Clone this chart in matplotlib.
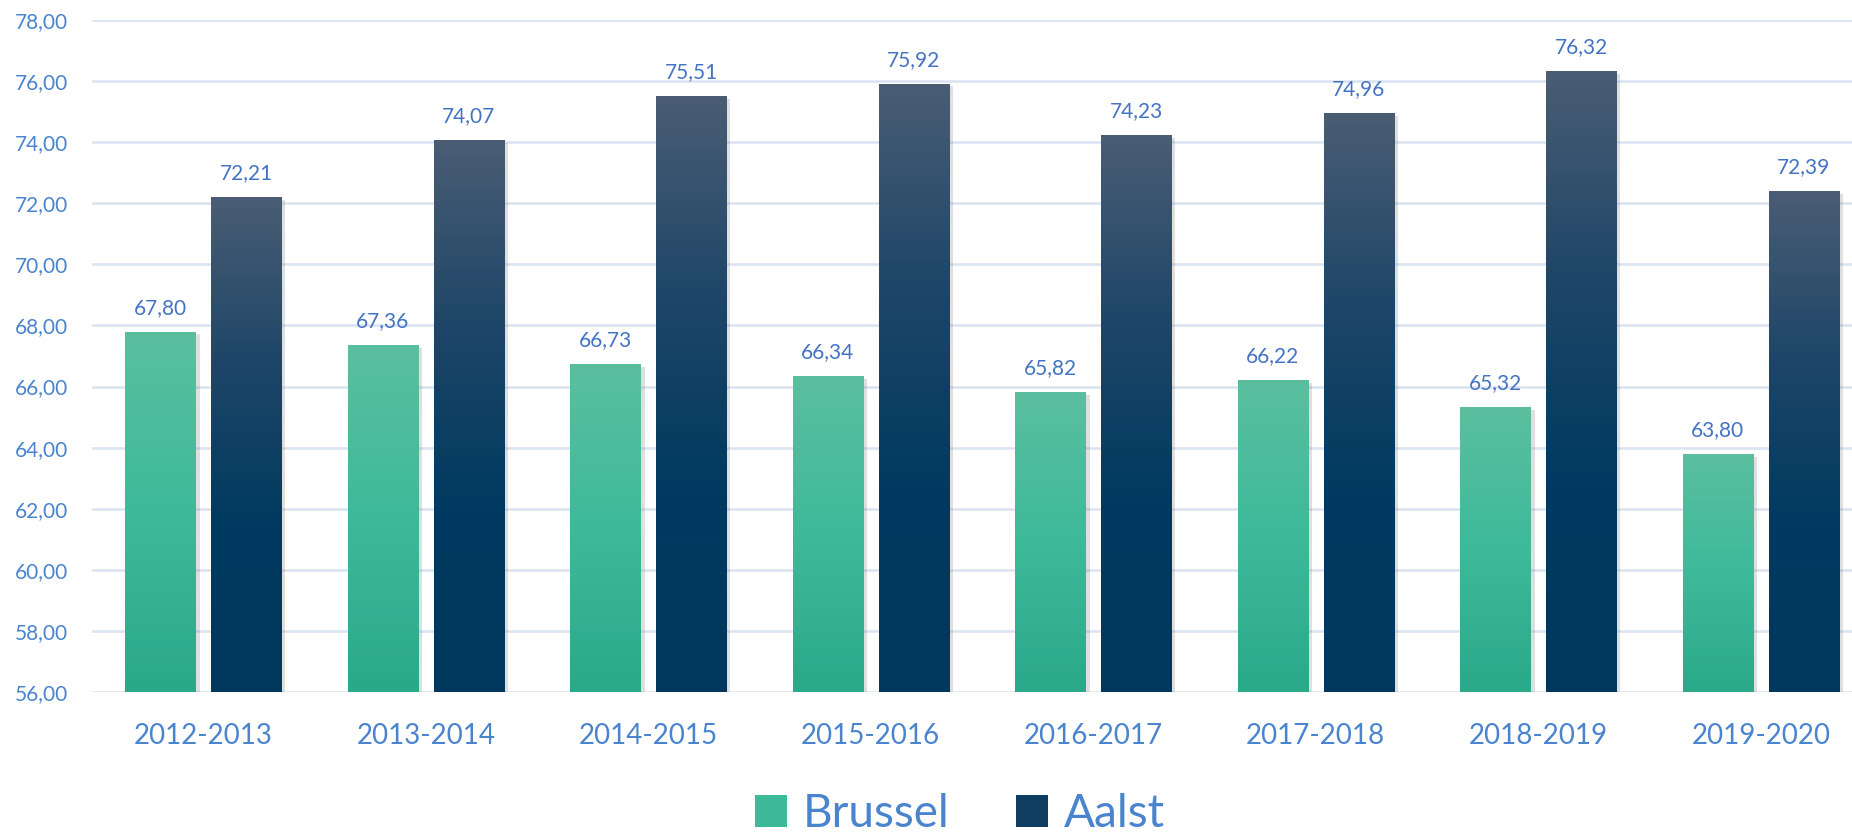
import numpy as np
import matplotlib
matplotlib.use("Agg")
import matplotlib.pyplot as plt
import matplotlib.patheffects as pe
from matplotlib.colors import LinearSegmentedColormap
from matplotlib.patches import Patch

plt.rcParams["font.family"] = ["Lato", "DejaVu Sans"]

years = ["2012-2013", "2013-2014", "2014-2015", "2015-2016",
         "2016-2017", "2017-2018", "2018-2019", "2019-2020"]
brussel = [67.80, 67.36, 66.73, 66.34, 65.82, 66.22, 65.32, 63.80]
aalst = [72.21, 74.07, 75.51, 75.92, 74.23, 74.96, 76.32, 72.39]

TEXT_BLUE = "#4a84cf"
LABEL_BLUE = "#4472c4"
GRID = "#d9e3f1"

# top -> bottom gradients
cm_brussel = LinearSegmentedColormap.from_list("br", ["#5bbf9f", "#3dba9a", "#2aa98a"])
cm_aalst = LinearSegmentedColormap.from_list("aa", ["#4a5d74", "#1e4668", "#003a60", "#00375c"])

fig = plt.figure(figsize=(18.52, 8.32), dpi=100)
ax = fig.add_axes([92 / 1852, 1 - 692 / 832, 1 - 92 / 1852, (692 - 20) / 832])

YMIN, YMAX = 56, 78
x = np.arange(len(years))
w = 0.315
off = 0.193


def grad_bars(xs, vals, cmap):
    bars = ax.bar(xs, np.array(vals) - YMIN, bottom=YMIN, width=w, color="none",
                  edgecolor="none", zorder=3)
    grad = np.linspace(0, 1, 256).reshape(-1, 1)
    for b in bars:
        x0, y0 = b.get_x(), b.get_y()
        x1, y1 = x0 + b.get_width(), y0 + b.get_height()
        # soft shadow
        sh = ax.bar(b.get_x() + b.get_width() / 2, b.get_height(), bottom=y0, width=w,
                    color="none", zorder=2)[0]
        sh.set_path_effects([pe.SimplePatchShadow(offset=(3, -2), shadow_rgbFace="0.5", alpha=0.25)])
        im = ax.imshow(grad, cmap=cmap, aspect="auto", extent=[x0, x1, y0, y1],
                       origin="upper", zorder=3, interpolation="bilinear")
        im.set_clip_path(b)
    return bars


bb = grad_bars(x - off, brussel, cm_brussel)
ba = grad_bars(x + off, aalst, cm_aalst)

for xs, vals in ((x - off, brussel), (x + off, aalst)):
    for xi, v in zip(xs, vals):
        ax.annotate(f"{v:.2f}".replace(".", ","), (xi, v), xytext=(0, 10),
                    textcoords="offset points", ha="center", va="bottom",
                    fontsize=15, color=LABEL_BLUE)

ax.set_xlim(-0.5, 7.41)
ax.set_ylim(YMIN, YMAX)
ax.set_yticks(np.arange(56, 79, 2))
ax.set_yticklabels([f"{t:.2f}".replace(".", ",") for t in np.arange(56, 79, 2)])
ax.set_xticks(x)
ax.set_xticklabels(years)
ax.tick_params(axis="y", length=0, pad=17, labelsize=15, labelcolor=TEXT_BLUE)
ax.tick_params(axis="x", length=0, pad=22, labelsize=20, labelcolor=TEXT_BLUE)
ax.grid(axis="y", color=GRID, linewidth=1.8, zorder=0)
ax.set_axisbelow(True)
for s in ax.spines.values():
    s.set_visible(False)

handles = [Patch(facecolor="#3dba9a", label="Brussel"),
           Patch(facecolor="#0f3d62", label="Aalst")]
fig.legend(handles=handles, loc="center", bbox_to_anchor=(960 / 1852, 1 - 814 / 832),
           ncol=2, frameon=False, fontsize=33, labelcolor=TEXT_BLUE,
           handlelength=0.7, handleheight=0.7, handletextpad=0.35, columnspacing=1.45,
           borderpad=0.1)

fig.savefig("out.png", dpi=100)
